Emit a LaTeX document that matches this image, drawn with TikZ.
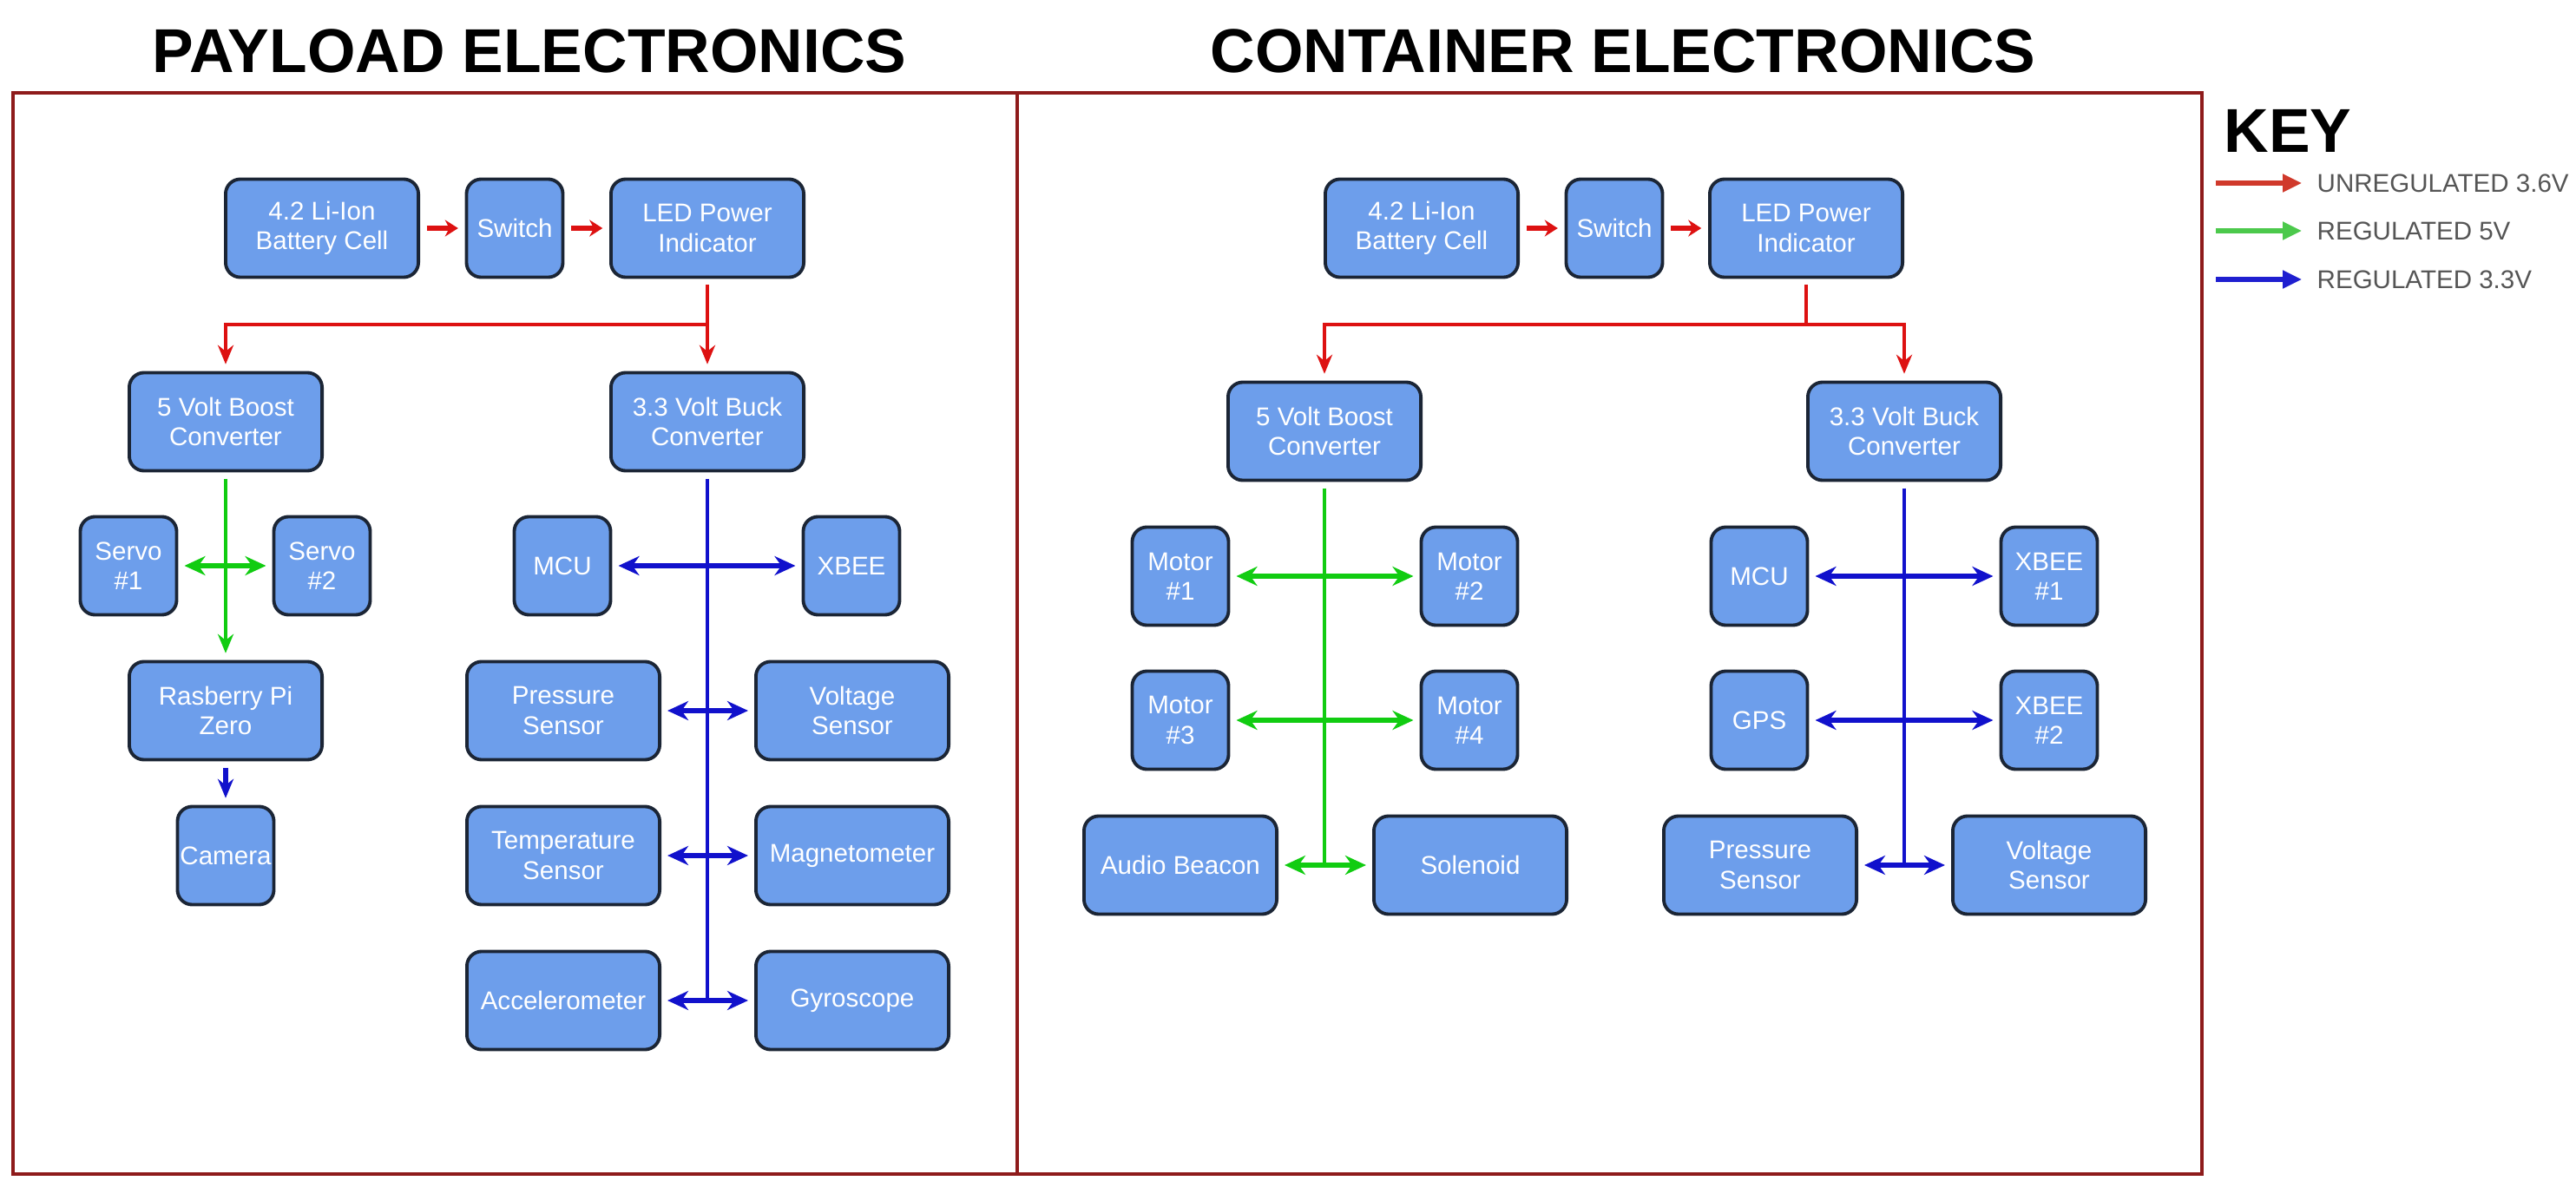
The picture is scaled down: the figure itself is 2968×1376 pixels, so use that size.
\documentclass[tikz,border=0pt]{standalone}
\usepackage{fontspec}
\setmainfont{Liberation Sans}
\usetikzlibrary{arrows.meta}
\definecolor{boxfill}{HTML}{6D9EEB}
\definecolor{boxline}{HTML}{1B2535}
\definecolor{framered}{HTML}{8E1B1B}
\definecolor{unregred}{HTML}{DD1111}
\definecolor{regfive}{HTML}{11CC11}
\definecolor{regthree}{HTML}{1111CC}
\definecolor{keyred}{HTML}{D0392B}
\definecolor{keygreen}{HTML}{4CC94C}
\definecolor{keyblue}{HTML}{1F1FD0}
\definecolor{keytext}{HTML}{555555}
\begin{document}
\begin{tikzpicture}
  [x=0.01cm,y=-0.01cm,
   blk/.style={draw=boxline,fill=boxfill,rounded corners=0.17cm,line width=1.1pt,
     text=white,align=center,inner sep=0pt,minimum height=1.13cm,
     font=\fontsize{8.4}{9.7}\selectfont},
   wide/.style={blk,minimum width=2.22cm},
   narrow/.style={blk,minimum width=1.11cm},
   feed/.style={line width=1.1pt,-{Stealth[length=0.22cm,width=0.18cm]},shorten <=2pt,shorten >=2.2pt},
   hop/.style={line width=1.8pt,-{Stealth[length=0.15cm,width=0.19cm]},shorten <=2.2pt,shorten >=2.2pt},
   bus/.style={line width=1.7pt,{Stealth[length=0.24cm,width=0.22cm]}-{Stealth[length=0.24cm,width=0.22cm]},shorten <=2pt,shorten >=2pt},
   keyarrow/.style={line width=1.5pt,-{Triangle[length=0.22cm,width=0.2cm]}},
   title/.style={font=\fontsize{20.3}{24}\selectfont\bfseries},
   keylabel/.style={anchor=west,text=keytext,inner sep=0pt,font=\fontsize{8.4}{10}\selectfont}]
  \useasboundingbox (0,0) rectangle (2968,1376);

  \node[title] (ptitle) at (610,59) {PAYLOAD ELECTRONICS};
  \node[title] (ctitle) at (1870,59) {CONTAINER ELECTRONICS};
  \draw[framered,line width=1.2pt] (15,107) rectangle (2537,1353);
  \draw[framered,line width=1.2pt] (1172,107) -- (1172,1353);

  % payload
  \node[wide] (pbat) at (371,263) {4.2 Li-Ion\\Battery Cell};
  \node[narrow] (psw) at (593,263) {Switch};
  \node[wide] (pled) at (815,263) {LED Power\\Indicator};
  \node[wide] (pboost) at (260,486) {5 Volt Boost\\Converter};
  \node[wide] (pbuck) at (815,486) {3.3 Volt Buck\\Converter};
  \node[narrow] (pservoa) at (148,652) {Servo\\\#1};
  \node[narrow] (pservob) at (371,652) {Servo\\\#2};
  \node[wide] (prpi) at (260,819) {Rasberry Pi\\Zero};
  \node[narrow] (pcam) at (260,986) {Camera};
  \node[narrow] (pmcu) at (648,652) {MCU};
  \node[narrow] (pxbee) at (981,652) {XBEE};
  \node[wide] (ppres) at (649,819) {Pressure\\Sensor};
  \node[wide] (pvolt) at (982,819) {Voltage\\Sensor};
  \node[wide] (ptemp) at (649,986) {Temperature\\Sensor};
  \node[wide] (pmag) at (982,986) {Magnetometer};
  \node[wide] (pacc) at (649,1153) {Accelerometer};
  \node[wide] (pgyro) at (982,1153) {Gyroscope};

  \draw[hop,unregred] (pbat) -- (psw);
  \draw[hop,unregred] (psw) -- (pled);
  \coordinate (psplit) at (815,374);
  \draw[unregred,line width=1.1pt,shorten <=2pt] (pled.south) -- (psplit);
  \draw[feed,unregred,shorten <=0pt] (psplit) -| (pboost.north);
  \draw[feed,unregred,shorten <=0pt] (psplit) -- (pbuck.north);
  \draw[feed,regfive] (pboost) -- (prpi);
  \draw[bus,regfive] (pservoa) -- (pservob);
  \draw[feed,regthree,line width=1.5pt] (prpi) -- (pcam);
  \coordinate (pbusend) at (pbuck.south |- pacc);
  \draw[regthree,line width=1.1pt,shorten <=2pt] (pbuck.south) -- (pbusend);
  \draw[bus,regthree] (pmcu) -- (pxbee);
  \draw[bus,regthree] (ppres) -- (pvolt);
  \draw[bus,regthree] (ptemp) -- (pmag);
  \draw[bus,regthree] (pacc) -- (pgyro);

  % container
  \node[wide] (cbat) at (1638,263) {4.2 Li-Ion\\Battery Cell};
  \node[narrow] (csw) at (1860,263) {Switch};
  \node[wide] (cled) at (2081,263) {LED Power\\Indicator};
  \node[wide] (cboost) at (1526,497) {5 Volt Boost\\Converter};
  \node[wide] (cbuck) at (2194,497) {3.3 Volt Buck\\Converter};
  \node[narrow] (cmota) at (1360,664) {Motor\\\#1};
  \node[narrow] (cmotb) at (1693,664) {Motor\\\#2};
  \node[narrow] (cmotc) at (1360,830) {Motor\\\#3};
  \node[narrow] (cmotd) at (1693,830) {Motor\\\#4};
  \node[wide] (caudio) at (1360,997) {Audio Beacon};
  \node[wide] (csol) at (1694,997) {Solenoid};
  \node[narrow] (cmcu) at (2027,664) {MCU};
  \node[narrow] (cxbeea) at (2361,664) {XBEE\\\#1};
  \node[narrow] (cgps) at (2027,830) {GPS};
  \node[narrow] (cxbeeb) at (2361,830) {XBEE\\\#2};
  \node[wide] (cpres) at (2028,997) {Pressure\\Sensor};
  \node[wide] (cvolt) at (2361,997) {Voltage\\Sensor};

  \draw[hop,unregred] (cbat) -- (csw);
  \draw[hop,unregred] (csw) -- (cled);
  \coordinate (csplit) at (2081,374);
  \draw[unregred,line width=1.1pt,shorten <=2pt] (cled.south) -- (csplit);
  \draw[feed,unregred,shorten <=0pt] (csplit) -| (cboost.north);
  \draw[feed,unregred,shorten <=0pt] (csplit) -| (cbuck.north);
  \coordinate (cgreenend) at (cboost.south |- caudio);
  \draw[regfive,line width=1.1pt,shorten <=2pt] (cboost.south) -- (cgreenend);
  \draw[bus,regfive] (cmota) -- (cmotb);
  \draw[bus,regfive] (cmotc) -- (cmotd);
  \draw[bus,regfive] (caudio) -- (csol);
  \coordinate (cblueend) at (cbuck.south |- cpres);
  \draw[regthree,line width=1.1pt,shorten <=2pt] (cbuck.south) -- (cblueend);
  \draw[bus,regthree] (cmcu) -- (cxbeea);
  \draw[bus,regthree] (cgps) -- (cxbeeb);
  \draw[bus,regthree] (cpres) -- (cvolt);

  % key
  \node[title,anchor=west,inner sep=0pt] (key) at (2562,151) {KEY};
  \coordinate (kra) at (2553,211); \coordinate (krb) at (2652,211);
  \coordinate (kga) at (2553,266); \coordinate (kgb) at (2652,266);
  \coordinate (kba) at (2553,322); \coordinate (kbb) at (2652,322);
  \draw[keyarrow,keyred] (kra) -- (krb);
  \draw[keyarrow,keygreen] (kga) -- (kgb);
  \draw[keyarrow,keyblue] (kba) -- (kbb);
  \node[keylabel] (kunreg) at (2669,211) {UNREGULATED 3.6V};
  \node[keylabel] (kfive) at (2669,266) {REGULATED 5V};
  \node[keylabel] (kthree) at (2669,322) {REGULATED 3.3V};
\end{tikzpicture}
\end{document}
